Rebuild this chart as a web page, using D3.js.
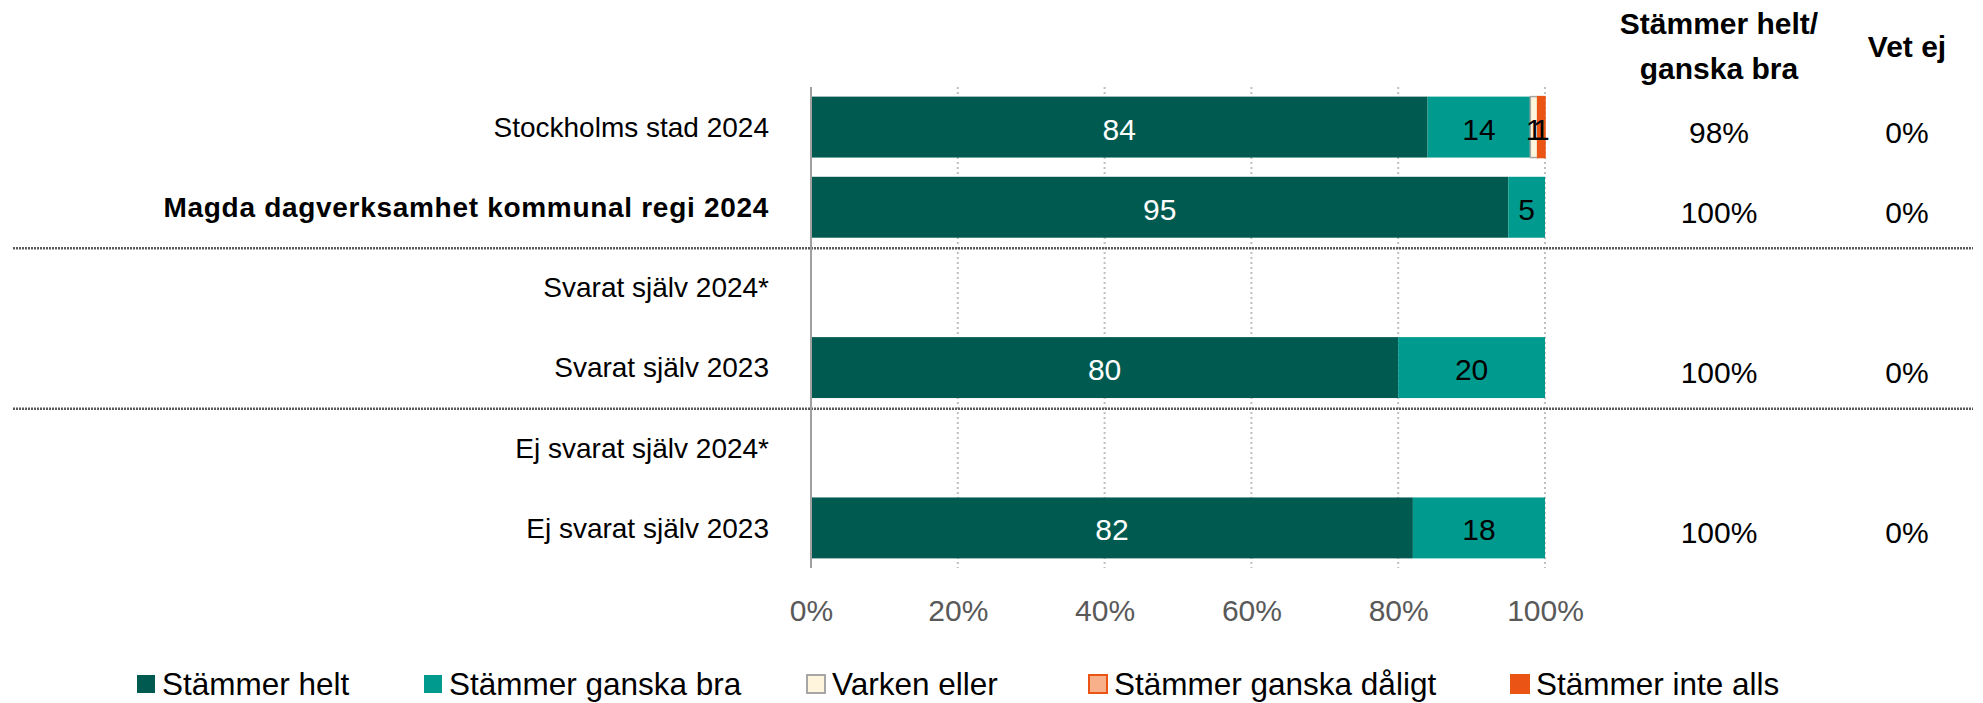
<!DOCTYPE html>
<html>
<head>
<meta charset="utf-8">
<script src="https://cdn.jsdelivr.net/npm/d3@7"></script>
<style>
  html, body { margin: 0; padding: 0; background: #fff; }
  svg { display: block; font-family: "Liberation Sans", Arial, sans-serif; }
</style>
</head>
<body>
<svg id="chart" width="1983" height="703"></svg>
<script>
// Survey groups (rows, top to bottom)
const categories = [
  "Stockholms stad 2024",
  "Magda dagverksamhet kommunal regi 2024",
  "Svarat själv 2024*",
  "Svarat själv 2023",
  "Ej svarat själv 2024*",
  "Ej svarat själv 2023"
];
const boldCategory = "Magda dagverksamhet kommunal regi 2024";

// Answer shares in percent per row (null = no data)
const stammerHelt        = [84, 95, null, 80, null, 82];
const stammerGanskaBra   = [14, 5,  null, 20, null, 18];
const varkenEller        = [1,  0,  null, 0,  null, 0];
const stammerGanskaDaligt= [0,  0,  null, 0,  null, 0];
const stammerInteAlls    = [1,  0,  null, 0,  null, 0];

// Side columns
const heltGanskaBra = ["98%", "100%", "", "100%", "", "100%"];
const vetEj         = ["0%",  "0%",   "", "0%",   "", "0%"];

const seriesNames = ["Stämmer helt", "Stämmer ganska bra", "Varken eller", "Stämmer ganska dåligt", "Stämmer inte alls"];
const xTicks = [0, 20, 40, 60, 80, 100];

// Styling
const fills   = ["#005a4f", "#009a8f", "#fff5dc", "#f7b08a", "#ea5414"];
const strokes = ["none", "none", "#a6a6a6", "#ea5414", "#ea5414"];

const svg = d3.select("#chart");

const x = d3.scaleLinear().domain([0, 100]).range([811, 1545]);
const y = d3.scaleBand().domain(categories).range([87, 568]).paddingInner(0.24).paddingOuter(0.12);

// Vertical dotted gridlines
svg.append("g")
  .selectAll("line")
  .data(xTicks.filter(d => d > 0))
  .join("line")
  .attr("x1", d => x(d)).attr("x2", d => x(d))
  .attr("y1", 87).attr("y2", 568)
  .attr("stroke", "#bfbfbf")
  .attr("stroke-width", 2)
  .attr("stroke-dasharray", "2,3");

// Group separators
[[1, 2], [3, 4]].forEach(([a, b]) => {
  const ySep = (y(categories[a]) + y.bandwidth() + y(categories[b])) / 2 + 1;
  svg.append("line")
    .attr("x1", 13).attr("x2", 1973)
    .attr("y1", ySep).attr("y2", ySep)
    .attr("stroke", "#5a5a5a")
    .attr("stroke-width", 2.5)
    .attr("stroke-dasharray", "2,1");
});

// Stacked bars
const rows = categories.map((c, i) => ({
  cat: c,
  vals: [stammerHelt[i], stammerGanskaBra[i], varkenEller[i], stammerGanskaDaligt[i], stammerInteAlls[i]]
})).filter(r => r.vals[0] !== null);

const segs = [];
rows.forEach(r => {
  let acc = 0;
  r.vals.forEach((v, k) => {
    segs.push({ cat: r.cat, k, v, x0: acc, x1: acc + v });
    acc += v;
  });
});

const bars = svg.append("g");
bars.selectAll("rect")
  .data(segs.filter(s => s.v > 0))
  .join("rect")
  .attr("x", d => x(d.x0))
  .attr("y", d => y(d.cat))
  .attr("width", d => x(d.x1) - x(d.x0))
  .attr("height", y.bandwidth())
  .attr("fill", d => fills[d.k])
  .attr("stroke", d => strokes[d.k])
  .attr("stroke-width", d => strokes[d.k] === "none" ? 0 : 1.5);

bars.selectAll("text")
  .data(segs.filter(s => s.v > 0))
  .join("text")
  .attr("x", d => (x(d.x0) + x(d.x1)) / 2)
  .attr("y", d => y(d.cat) + y.bandwidth() / 2 + 2)
  .attr("dy", "0.35em")
  .attr("text-anchor", "middle")
  .attr("font-size", 30)
  .attr("fill", d => d.k === 0 ? "#ffffff" : "#000000")
  .text(d => d.v);

// Category axis line at 0%
svg.append("line")
  .attr("x1", x(0)).attr("x2", x(0))
  .attr("y1", 87).attr("y2", 568)
  .attr("stroke", "#a0a0a0")
  .attr("stroke-width", 2);

// Row labels
svg.append("g")
  .selectAll("text")
  .data(categories)
  .join("text")
  .attr("x", 769)
  .attr("y", d => y(d) + y.bandwidth() / 2)
  .attr("dy", "0.35em")
  .attr("text-anchor", "end")
  .attr("font-size", 28)
  .attr("font-weight", d => d === boldCategory ? "bold" : "normal")
  .attr("letter-spacing", d => d === boldCategory ? 0.7 : 0)
  .attr("fill", "#000")
  .text(d => d);

// X axis tick labels
const xAxis = d3.axisBottom(x).tickValues(xTicks).tickFormat(d => d + "%").tickSize(0).tickPadding(0);
const gx = svg.append("g").attr("transform", "translate(0,600)").call(xAxis);
gx.select(".domain").remove();
gx.selectAll("text")
  .attr("font-size", 30)
  .attr("font-family", "Liberation Sans, Arial, sans-serif")
  .attr("fill", "#595959")
  .attr("dy", "0.71em");

// Side column headers
const col1 = 1719, col2 = 1907;
const hdr = svg.append("g").attr("font-size", 30).attr("font-weight", "bold").attr("text-anchor", "middle");
hdr.append("text").attr("x", col1).attr("y", 34).text("Stämmer helt/");
hdr.append("text").attr("x", col1).attr("y", 79).text("ganska bra");
hdr.append("text").attr("x", col2).attr("y", 57).text("Vet ej");

// Side column values
svg.append("g")
  .selectAll("text")
  .data(categories.map((c, i) => ({ c, v: heltGanskaBra[i] })))
  .join("text")
  .attr("x", col1)
  .attr("y", d => y(d.c) + y.bandwidth() / 2 + 5)
  .attr("dy", "0.35em")
  .attr("text-anchor", "middle")
  .attr("font-size", 30)
  .text(d => d.v);
svg.append("g")
  .selectAll("text")
  .data(categories.map((c, i) => ({ c, v: vetEj[i] })))
  .join("text")
  .attr("x", col2)
  .attr("y", d => y(d.c) + y.bandwidth() / 2 + 5)
  .attr("dy", "0.35em")
  .attr("text-anchor", "middle")
  .attr("font-size", 30)
  .text(d => d.v);

// Legend
const legendX = [137, 424, 807, 1089, 1511];
const legend = svg.append("g").attr("transform", "translate(0,684)");
const items = legend.selectAll("g")
  .data(seriesNames)
  .join("g")
  .attr("transform", (d, i) => `translate(${legendX[i]},0)`);
items.append("rect")
  .attr("x", 0).attr("y", -9)
  .attr("width", 18).attr("height", 18)
  .attr("fill", (d, i) => fills[i])
  .attr("stroke", (d, i) => strokes[i])
  .attr("stroke-width", (d, i) => strokes[i] === "none" ? 0 : 2);
items.append("text")
  .attr("x", 25)
  .attr("dy", "0.35em")
  .attr("font-size", 31.5)
  .text(d => d);
</script>
</body>
</html>
